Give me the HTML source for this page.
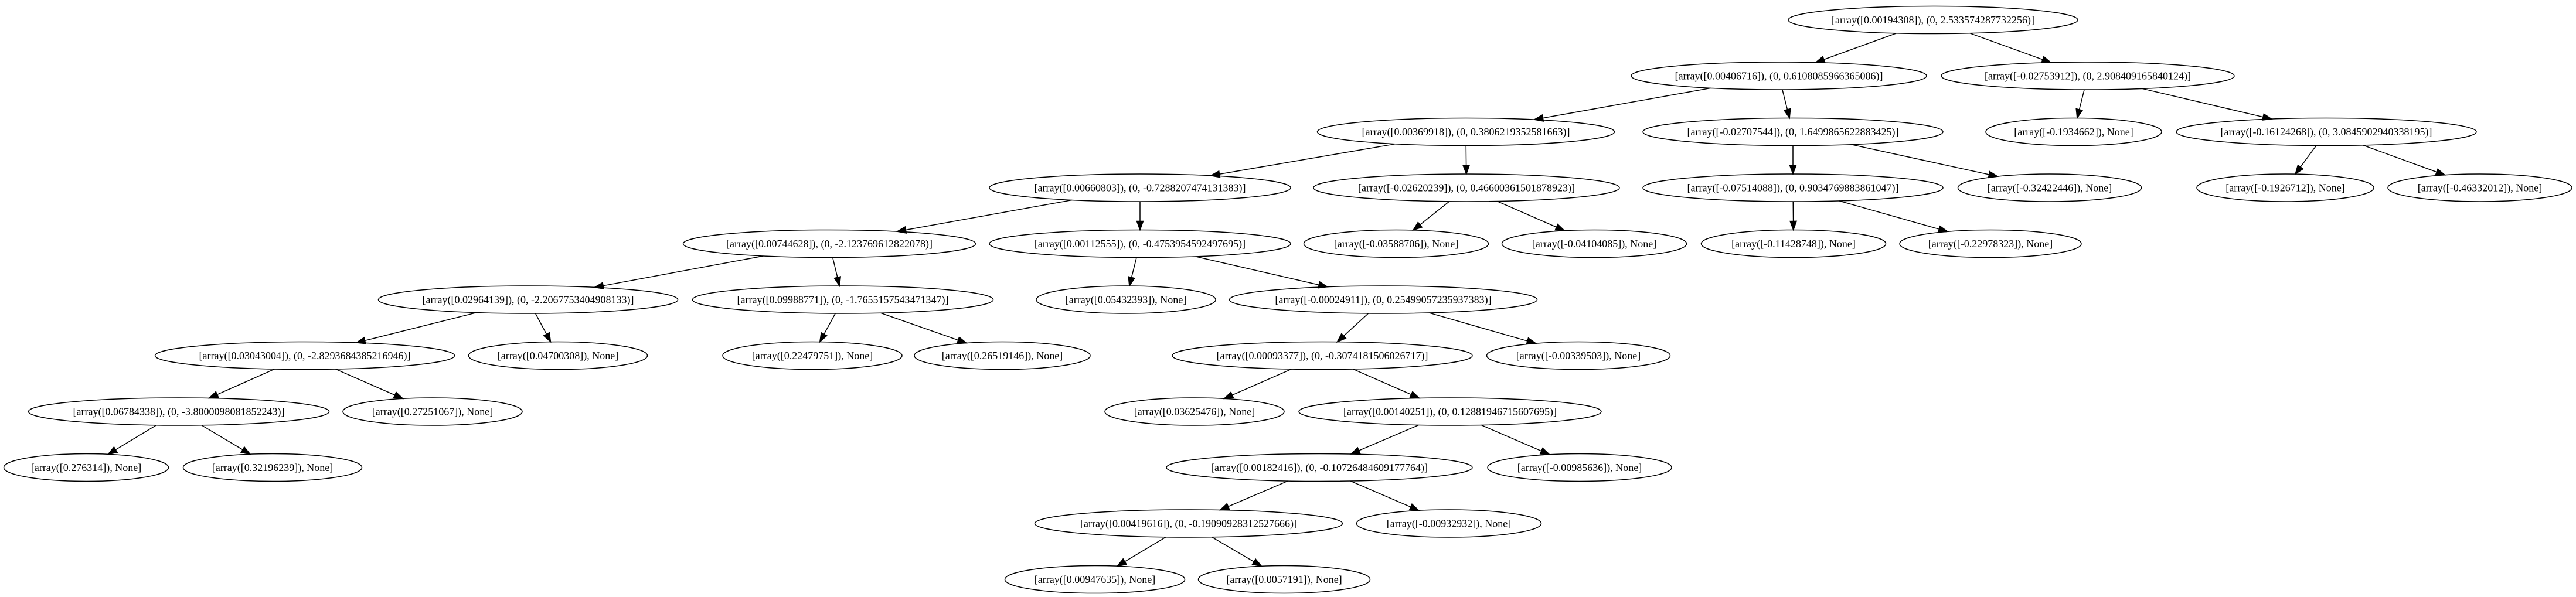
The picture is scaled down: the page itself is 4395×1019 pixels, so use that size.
<!DOCTYPE html>
<html><head><meta charset="utf-8"><style>
html,body{margin:0;padding:0;background:#fff;}
svg{display:block;}
text{font-family:"Liberation Serif","Times New Roman",serif;font-size:18px;fill:#000;}
ellipse{fill:none;stroke:#000;stroke-width:1.5;}
</style></head><body>
<svg id="g" xmlns="http://www.w3.org/2000/svg" width="4395" height="1019" viewBox="0 0 4395 1019">
<rect width="4395" height="1019" fill="#fff"/>
<g id="edges"></g>
<g id="nodes"></g>
</svg>
<script>
var R=[34,129.5,225,320.5,416,511.5,607,702.5,798,893.5,989];
var N={
n0:[3298,0,494,"[array([0.00194308]), (0, 2.533574287732256)]"],
A:[3035,1,504,"[array([0.00406716]), (0, 0.6108085966365006)]"],
B:[3562,1,500,"[array([-0.02753912]), (0, 2.908409165840124)]"],
C:[2501,2,507,"[array([0.00369918]), (0, 0.3806219352581663)]"],
D:[3059,2,512,"[array([-0.02707544]), (0, 1.6499865622883425)]"],
b1:[3538,2,300,"[array([-0.1934662]), None]"],
E:[3969,2,512,"[array([-0.16124268]), (0, 3.0845902940338195)]"],
H:[1945,3,514,"[array([0.00660803]), (0, -0.7288207474131383)]"],
F:[2502,3,522,"[array([-0.02620239]), (0, 0.46600361501878923)]"],
G:[3059,3,512,"[array([-0.07514088]), (0, 0.9034769883861047)]"],
d1:[3497,3,313,"[array([-0.32422446]), None]"],
e1:[3899,3,302,"[array([-0.1926712]), None]"],
e2:[4231,3,314,"[array([-0.46332012]), None]"],
I:[1415,4,499,"[array([0.00744628]), (0, -2.123769612822078)]"],
J:[1945,4,514,"[array([0.00112555]), (0, -0.4753954592497695)]"],
f1:[2382,4,315,"[array([-0.03588706]), None]"],
f2:[2720,4,315,"[array([-0.04104085]), None]"],
g1:[3060,4,315,"[array([-0.11428748]), None]"],
g2:[3396,4,310,"[array([-0.22978323]), None]"],
K:[901,5,511,"[array([0.02964139]), (0, -2.2067753404908133)]"],
L:[1438,5,513,"[array([0.09988771]), (0, -1.7655157543471347)]"],
j1:[1921,5,306,"[array([0.05432393]), None]"],
O:[2360,5,525,"[array([-0.00024911]), (0, 0.25499057235937383)]"],
M:[520,6,511,"[array([0.03043004]), (0, -2.8293684385216946)]"],
k1:[952,6,305,"[array([0.04700308]), None]"],
l1:[1386,6,306,"[array([0.22479751]), None]"],
l2:[1710,6,300,"[array([0.26519146]), None]"],
P:[2256,6,512,"[array([0.00093377]), (0, -0.3074181506026717)]"],
o1:[2693,6,313,"[array([-0.00339503]), None]"],
Nn:[305,7,513,"[array([0.06784338]), (0, -3.8000098081852243)]"],
m1:[738,7,306,"[array([0.27251067]), None]"],
p1:[2038,7,306,"[array([0.03625476]), None]"],
Q:[2474,7,516,"[array([0.00140251]), (0, 0.12881946715607695)]"],
n1:[147,8,281,"[array([0.276314]), None]"],
n2:[465,8,305,"[array([0.32196239]), None]"],
Rr:[2251,8,522,"[array([0.00182416]), (0, -0.10726484609177764)]"],
q1:[2695,8,314,"[array([-0.00985636]), None]"],
S:[2028,9,525,"[array([0.00419616]), (0, -0.19090928312527666)]"],
r1:[2472,9,315,"[array([-0.00932932]), None]"],
s1:[1868,10,307,"[array([0.00947635]), None]"],
s2:[2191,10,293,"[array([0.0057191]), None]"]
};
var E=[["n0","A"],["n0","B"],["A","C"],["A","D"],["B","b1"],["B","E"],["C","H"],["C","F"],["D","G"],["D","d1"],["E","e1"],["E","e2"],["H","I"],["H","J"],["F","f1"],["F","f2"],["G","g1"],["G","g2"],["I","K"],["I","L"],["J","j1"],["J","O"],["K","M"],["K","k1"],["L","l1"],["L","l2"],["O","P"],["O","o1"],["M","Nn"],["M","m1"],["P","p1"],["P","Q"],["Nn","n1"],["Nn","n2"],["Q","Rr"],["Q","q1"],["Rr","S"],["Rr","r1"],["S","s1"],["S","s2"]];
var NS="http://www.w3.org/2000/svg",ry=23.5;
var ng=document.getElementById("nodes"),eg=document.getElementById("edges");
function el(t,a,p){var e=document.createElementNS(NS,t);for(var k in a)e.setAttribute(k,a[k]);p.appendChild(e);return e;}
for(var k in N){var n=N[k],y=R[n[1]];
el("ellipse",{cx:n[0],cy:y,rx:n[2]/2,ry:ry},ng);
var t=el("text",{x:n[0],y:y+6,"text-anchor":"middle"},ng);t.textContent=n[3];}
function bd(n,dx,dy){var rx=n[2]/2,t=1/Math.sqrt((dx/rx)*(dx/rx)+(dy/ry)*(dy/ry));return t;}
E.forEach(function(e){var a=N[e[0]],b=N[e[1]];
var ax=a[0],ay=R[a[1]],bx=b[0],by=R[b[1]];
var dx=bx-ax,dy=by-ay,L=Math.sqrt(dx*dx+dy*dy),ux=dx/L,uy=dy/L;
var ta=bd(a,ux,uy),tb=bd(b,ux,uy);
var sx=ax+ux*ta,sy=ay+uy*ta,ex=bx-ux*tb,ey=by-uy*tb;
var al=15,aw=5.5;
var lx=ex-ux*al,ly=ey-uy*al;
el("line",{x1:sx,y1:sy,x2:lx,y2:ly,stroke:"#000","stroke-width":1.5},eg);
var px=-uy,py=ux;
el("polygon",{points:ex+","+ey+" "+(lx+px*aw)+","+(ly+py*aw)+" "+(lx-px*aw)+","+(ly-py*aw),fill:"#000",stroke:"#000","stroke-width":1.5},eg);
});
</script>
</body></html>
